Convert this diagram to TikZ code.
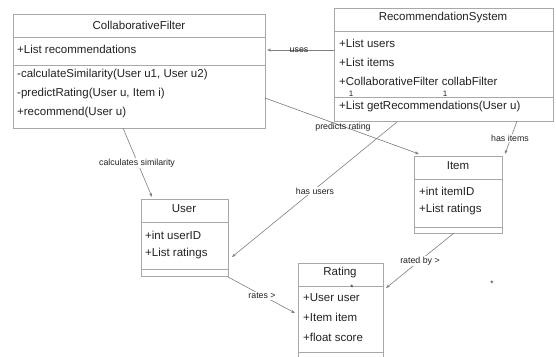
\documentclass[tikz,border=0pt]{standalone}
\usepackage{fontspec}
\setmainfont{Liberation Sans}
\usetikzlibrary{arrows.meta}
\definecolor{boxline}{HTML}{A8A8A8}
\definecolor{conn}{HTML}{808080}
\definecolor{txt}{HTML}{222222}
\begin{document}
\begin{tikzpicture}[x=1pt,y=-1pt,
  box/.style={draw=boxline,line width=0.8pt,inner sep=0pt,anchor=north west},
  sep/.style={draw=boxline,line width=0.8pt},
  ttl/.style={text=txt,inner sep=0pt,font=\fontsize{11.5}{13}\selectfont},
  attr/.style={text=txt,inner sep=0pt,anchor=west,font=\fontsize{11.5}{13}\selectfont},
  lbl/.style={text=txt,inner sep=0pt,font=\fontsize{8.8}{10}\selectfont},
  mult/.style={text=txt,inner sep=0pt,font=\fontsize{8}{9}\selectfont},
  conn/.style={draw=conn,line width=0.6pt},
  arr/.style={conn,-{Stealth[length=4pt,width=3pt]}}]
\useasboundingbox (0,0) rectangle (556,356);
\clip (0,0) rectangle (556,356);
\fill[white] (0,0) rectangle (556,356);

% CollaborativeFilter
\node[box,minimum width=252pt,minimum height=114pt] (cf) at (13,14) {};
\draw[sep] (13,37) -- (265,37) (13,65.5) -- (265,65.5);
\node[ttl] (cft) at (139,25) {CollaborativeFilter};
\node[attr] (cfa1) at (17,49) {+List recommendations};
\node[attr] (cfm1) at (17,75) {-calculateSimilarity(User u1, User u2)};
\node[attr] (cfm2) at (17,94) {-predictRating(User u, Item i)};
\node[attr] (cfm3) at (17,113) {+recommend(User u)};

% RecommendationSystem
\node[box,minimum width=219pt,minimum height=113pt] (rs) at (334,8) {};
\draw[sep] (334,31) -- (553,31) (334,97) -- (553,97);
\node[ttl] (rst) at (443,18) {RecommendationSystem};
\node[attr] (rsa1) at (339,43) {+List users};
\node[attr] (rsa2) at (339,62) {+List items};
\node[attr] (rsa3) at (339,81) {+CollaborativeFilter collabFilter};
\node[attr] (rsm1) at (339,107) {+List getRecommendations(User u)};
\node[mult] (m1) at (351,94) {1};
\node[mult] (m2) at (445,94) {1};

% Item
\node[box,minimum width=88pt,minimum height=77pt] (item) at (414,156) {};
\draw[sep] (414,179) -- (502,179) (414,227) -- (502,227);
\node[ttl] (itemt) at (458,166) {Item};
\node[attr] (itema1) at (419,191) {+int itemID};
\node[attr] (itema2) at (419,210) {+List ratings};

% User
\node[box,minimum width=87pt,minimum height=77pt] (user) at (141,199) {};
\draw[sep] (141,222) -- (228,222) (141,269) -- (228,269);
\node[ttl] (usert) at (184,209) {User};
\node[attr] (usera1) at (145,235) {+int userID};
\node[attr] (usera2) at (145,254) {+List ratings};

% Rating
\node[box,minimum width=85pt,minimum height=97pt] (rating) at (298,263) {};
\draw[sep] (298,286) -- (383,286) (298,352) -- (383,352);
\node[ttl] (ratingt) at (340,273) {Rating};
\node[attr] (ratinga1) at (303,298) {+User user};
\node[attr] (ratinga2) at (303,317) {+Item item};
\node[attr] (ratinga3) at (303,337) {+float score};
\node[mult] (s1) at (352,288) {*};
\node[mult] (s2) at (492,284) {*};

% connector end points
\coordinate (usesA) at (334,50);
\coordinate (usesB) at (267,50);
\coordinate (predA) at (265,98);
\coordinate (predB) at (419,154);
\coordinate (calcA) at (123,128);
\coordinate (calcB) at (152,197);
\coordinate (husA) at (397,122);
\coordinate (husB) at (232,257);
\coordinate (hitA) at (517,121);
\coordinate (hitB) at (505,154);
\coordinate (ratesA) at (228,277);
\coordinate (ratesB) at (295,313);
\coordinate (rbyA) at (454,233);
\coordinate (rbyB) at (386,288);

\draw[arr] (usesA) -- (usesB);
\node[lbl] (luses) at (299,50) {uses};
\draw[arr] (predA) -- (predB);
\node[lbl] (lpred) at (343,127) {predicts rating};
\draw[arr] (calcA) -- (calcB);
\node[lbl,fill=white,inner sep=1pt] (lcalc) at (137,163) {calculates similarity};
\draw[arr] (husA) -- (husB);
\node[lbl,fill=white,inner sep=1pt] (lhus) at (315,191) {has users};
\draw[arr] (hitA) -- (hitB);
\node[lbl,fill=white,inner sep=1pt] (lhit) at (510,138) {has items};
\draw[arr] (ratesA) -- (ratesB);
\node[lbl,fill=white,inner sep=1pt] (lrates) at (262,296) {rates >};
\draw[arr] (rbyA) -- (rbyB);
\node[lbl,fill=white,inner sep=1pt] (lrby) at (420,261) {rated by >};
\end{tikzpicture}
\end{document}
